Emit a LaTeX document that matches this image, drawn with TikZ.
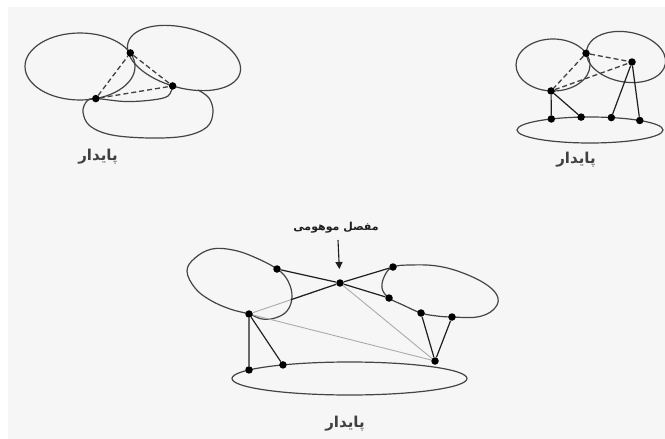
\documentclass[tikz,border=0pt]{standalone}
\usepackage{fontspec}
\usetikzlibrary{calc,arrows.meta}
\TeXXeTstate=1
\newfontfamily\farsi[Script=Arabic]{DejaVu Sans}
\definecolor{paper}{HTML}{F6F6F6}
\definecolor{rim}{HTML}{444444}
\definecolor{ink}{HTML}{1E1E1E}
\definecolor{faint}{HTML}{ABABAB}
\begin{document}
\begin{tikzpicture}[x=1pt,y=-1pt,
  rimline/.style={draw=rim, line width=1.2pt},
  link/.style={draw=ink, line width=1.2pt},
  dashlink/.style={draw=ink!85, line width=1.3pt, dash pattern=on 5pt off 3pt},
  thinlink/.style={draw=faint, line width=0.9pt},
  vtx/.style={circle, fill=black, inner sep=0pt, minimum size=7.5pt},
  caption/.style={font=\farsi\bfseries\fontsize{15}{17}\selectfont, text=ink!85},
  note/.style={font=\farsi\bfseries\fontsize{11}{13}\selectfont, text=ink},
]
\useasboundingbox (0,0) rectangle (665,439);
\fill[white] (0,0) rectangle (665,439);
\fill[paper] (8,7) rectangle (665,439);

% ---------- upper left group ----------
\begin{scope}[shift={(80,66.5)}]
  \draw[rimline] (0,0) ellipse [x radius=55, y radius=33.5];
  \coordinate (tlB) at (-23.9:55 and 33.5);
  \coordinate (tlA) at (73.3:55 and 33.5);
\end{scope}
\begin{scope}[shift={(184,58)}, rotate=-15]
  \draw[rimline] (0,0) ellipse [x radius=58, y radius=30];
  \coordinate (tlC) at (93.7:58 and 30);
\end{scope}
\draw[rimline] plot[smooth, tension=0.6] coordinates {(198,90) (209,98) (213,112) (207,127) (185,136) (150,138) (112,135) (90,126) (83,112) (87,101) (tlA) (125,101.5) (152,100) (168,96) (tlC)};

\node[vtx] (A) at (tlA) {};
\node[vtx] (B) at (tlB) {};
\node[vtx] (C) at (tlC) {};
\draw[dashlink] (A) -- (B);
\draw[dashlink] (B) -- (C);
\draw[dashlink] (A) -- (C);
\node[caption] (capL) at (98,157) {\beginR پایدار\endR};

% ---------- upper right group ----------
\begin{scope}[shift={(553,65)}]
  \draw[rimline] (0,0) ellipse [x radius=37, y radius=26];
  \coordinate (trP1) at (-26.7:37 and 26);
  \coordinate (trP3) at (93:37 and 26);
\end{scope}
\begin{scope}[shift={(626,57)}, rotate=-10]
  \draw[rimline] (0,0) ellipse [x radius=40, y radius=25];
\end{scope}
\begin{scope}[shift={(590,130)}]
  \draw[rimline] (0,0) ellipse [x radius=73, y radius=13];
  \coordinate (trQ1) at (-122:73 and 13);
  \coordinate (trQ2) at (-97:73 and 13);
  \coordinate (trQ3) at (-73:73 and 13);
  \coordinate (trQ4) at (-47:73 and 13);
\end{scope}

\node[vtx] (P1) at (trP1) {};
\node[vtx] (P2) at (632,62) {};
\node[vtx] (P3) at (trP3) {};
\node[vtx] (Q1) at (trQ1) {};
\node[vtx] (Q2) at (trQ2) {};
\node[vtx] (Q3) at (trQ3) {};
\node[vtx] (Q4) at (trQ4) {};
\draw[dashlink] (P1) -- (P3);
\draw[dashlink] (P3) -- (P2);
\draw[dashlink] (P1) -- (P2);
\draw[link] (P3) -- (Q1);
\draw[link] (P3) -- (Q2);
\draw[link] (P2) -- (Q3);
\draw[link] (P2) -- (Q4);
\node[caption] (capR) at (576,160) {\beginR پایدار\endR};

% ---------- lower group ----------
\coordinate (bD1) at (277,269);
\coordinate (bD4) at (249,314);
\coordinate (bD2) at (393,267);
\coordinate (bD3) at (389,298);
\coordinate (bD5) at (421,313);
\coordinate (bD6) at (452,317);

\draw[rimline] plot[smooth cycle, tension=0.65] coordinates {(187,271) (195,258) (212,249) (233,250) (254,257) (bD1) (288,281) (292,297) (287,311) (275,318) (262,319) (bD4) (230,309) (210,300) (195,288)};
\draw[rimline] plot[smooth cycle, tension=0.65] coordinates {(bD2) (410,265) (437,266) (463,273) (487,285) (498,298) (493,310) (477,317) (bD6) (437,316) (bD5) (403,305) (bD3) (382,288) (385,275)};
\begin{scope}[shift={(349.5,378.5)}]
  \draw[rimline] (0,0) ellipse [x radius=117.5, y radius=16.5];
  \coordinate (bD8) at (-148.8:117.5 and 16.5);
  \coordinate (bD7) at (-124.5:117.5 and 16.5);
\end{scope}

\node[vtx] (M) at (340,283) {};
\node[vtx] (D1) at (bD1) {};
\node[vtx] (D2) at (bD2) {};
\node[vtx] (D3) at (bD3) {};
\node[vtx] (D4) at (bD4) {};
\node[vtx] (D5) at (bD5) {};
\node[vtx] (D6) at (bD6) {};
\node[vtx] (D7) at (bD7) {};
\node[vtx] (D8) at (bD8) {};
\node[vtx] (D9) at (435,361) {};

\draw[thinlink] (M) -- (D9);
\draw[thinlink] (D4) -- (D9);
\draw[thinlink] (D4) -- (M);
\draw[link] (M) -- ($(M)!0.54!(D4)$);
\draw[link] (D1) -- (M);
\draw[link] (M) -- (D2);
\draw[link] (M) -- (D3);
\draw[link] (D4) -- (D8);
\draw[link] (D4) -- (D7);
\draw[link] (D5) -- (D9);
\draw[link] (D6) -- (D9);

\node[note] (joint) at (336,228) {\beginR مفصل موهومی\endR};
\coordinate (arrowtail) at (338,240);
\draw[ink, line width=1.1pt, -{Triangle[length=7pt,width=7pt]}, shorten >=10pt] (arrowtail) -- (M);
\node[caption] (capB) at (345,424) {\beginR پایدار\endR};
\end{tikzpicture}
\end{document}
